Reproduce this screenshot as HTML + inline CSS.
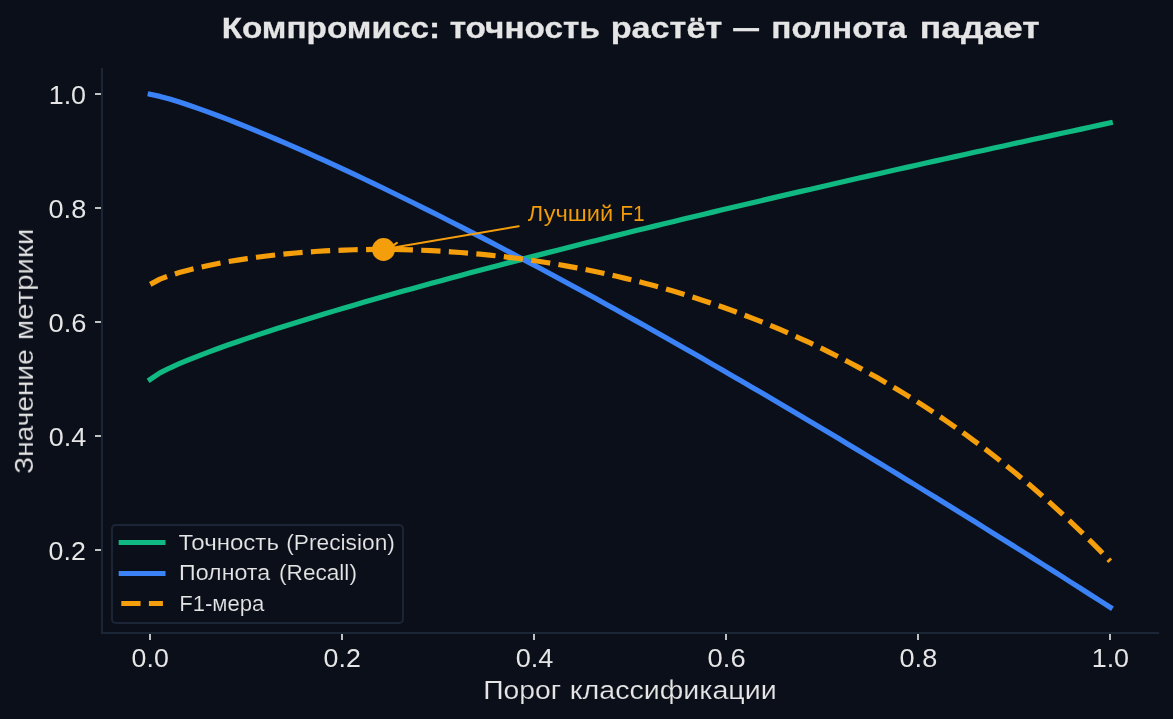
<!DOCTYPE html>
<html lang="ru"><head><meta charset="utf-8"><title>Компромисс: точность растёт — полнота падает</title>
<style>html,body{margin:0;padding:0;background:#0b0f19;overflow:hidden}svg{display:block}text{font-family:"Liberation Sans",sans-serif;white-space:pre}</style></head><body>
<svg width="1173" height="719" viewBox="0 0 1173 719" role="img" aria-label="Компромисс: точность растёт — полнота падает">
<rect width="1173" height="719" fill="#0b0f19"/>
<g fill="#c1c1c1" shape-rendering="crispEdges">
<rect x="149" y="633" width="2" height="7"/>
<rect x="341" y="633" width="2" height="7"/>
<rect x="533" y="633" width="2" height="7"/>
<rect x="725" y="633" width="2" height="7"/>
<rect x="917" y="633" width="2" height="7"/>
<rect x="1109" y="633" width="2" height="7"/>
<rect x="95" y="549" width="7" height="2"/>
<rect x="95" y="435" width="7" height="2"/>
<rect x="95" y="321" width="7" height="2"/>
<rect x="95" y="207" width="7" height="2"/>
<rect x="95" y="93" width="7" height="2"/>
</g>
<g fill="#1b2535" shape-rendering="crispEdges"><rect x="101" y="67.5" width="2" height="566.5"/><rect x="101" y="632" width="1057.8" height="2"/></g>
<g fill="none" stroke-width="5.208" stroke-linejoin="round">
<polyline stroke="#10b981" stroke-linecap="square" points="150.25,379.35 159.95,372.85 169.64,368.04 179.34,363.71 189.04,359.66 198.73,355.81 208.43,352.12 218.13,348.54 227.83,345.07 237.52,341.68 247.22,338.37 256.92,335.12 266.61,331.93 276.31,328.80 286.01,325.71 295.70,322.67 305.40,319.66 315.10,316.70 324.80,313.77 334.49,310.87 344.19,308.00 353.89,305.16 363.58,302.35 373.28,299.56 382.98,296.79 392.67,294.05 402.37,291.33 412.07,288.64 421.77,285.96 431.46,283.30 441.16,280.66 450.86,278.04 460.55,275.43 470.25,272.84 479.95,270.27 489.64,267.71 499.34,265.16 509.04,262.63 518.73,260.11 528.43,257.61 538.13,255.12 547.83,252.64 557.52,250.17 567.22,247.72 576.92,245.28 586.61,242.84 596.31,240.42 606.01,238.01 615.70,235.61 625.40,233.22 635.10,230.84 644.80,228.47 654.49,226.11 664.19,223.75 673.89,221.41 683.58,219.07 693.28,216.75 702.98,214.43 712.67,212.12 722.37,209.81 732.07,207.52 741.77,205.23 751.46,202.95 761.16,200.68 770.86,198.41 780.55,196.16 790.25,193.91 799.95,191.66 809.64,189.42 819.34,187.19 829.04,184.97 838.73,182.75 848.43,180.54 858.13,178.33 867.83,176.13 877.52,173.94 887.22,171.75 896.92,169.57 906.61,167.39 916.31,165.22 926.01,163.05 935.70,160.89 945.40,158.74 955.10,156.59 964.80,154.44 974.49,152.30 984.19,150.17 993.89,148.04 1003.58,145.92 1013.28,143.80 1022.98,141.68 1032.67,139.57 1042.37,137.46 1052.07,135.36 1061.77,133.27 1071.46,131.17 1081.16,129.09 1090.86,127.00 1100.55,124.92 1110.25,122.85"/>
<polyline stroke="#3b82f6" stroke-linecap="square" points="150.25,94.35 159.95,96.42 169.64,99.10 179.34,102.08 189.04,105.26 198.73,108.61 208.43,112.10 218.13,115.70 227.83,119.41 237.52,123.22 247.22,127.11 256.92,131.08 266.61,135.12 276.31,139.23 286.01,143.41 295.70,147.64 305.40,151.93 315.10,156.28 324.80,160.68 334.49,165.12 344.19,169.61 353.89,174.15 363.58,178.73 373.28,183.36 382.98,188.02 392.67,192.72 402.37,197.47 412.07,202.24 421.77,207.06 431.46,211.90 441.16,216.78 450.86,221.70 460.55,226.64 470.25,231.62 479.95,236.63 489.64,241.66 499.34,246.73 509.04,251.82 518.73,256.94 528.43,262.09 538.13,267.26 547.83,272.46 557.52,277.69 567.22,282.94 576.92,288.21 586.61,293.51 596.31,298.84 606.01,304.18 615.70,309.55 625.40,314.94 635.10,320.36 644.80,325.79 654.49,331.25 664.19,336.72 673.89,342.22 683.58,347.74 693.28,353.28 702.98,358.84 712.67,364.42 722.37,370.01 732.07,375.63 741.77,381.26 751.46,386.92 761.16,392.59 770.86,398.28 780.55,403.99 790.25,409.71 799.95,415.45 809.64,421.21 819.34,426.99 829.04,432.78 838.73,438.59 848.43,444.42 858.13,450.26 867.83,456.12 877.52,461.99 887.22,467.89 896.92,473.79 906.61,479.71 916.31,485.65 926.01,491.60 935.70,497.57 945.40,503.55 955.10,509.54 964.80,515.55 974.49,521.58 984.19,527.61 993.89,533.67 1003.58,539.73 1013.28,545.81 1022.98,551.91 1032.67,558.02 1042.37,564.14 1052.07,570.27 1061.77,576.42 1071.46,582.58 1081.16,588.75 1090.86,594.94 1100.55,601.14 1110.25,607.35"/>
<polyline stroke="#f59e0b" stroke-linecap="butt" stroke-dasharray="19.27 8.333" stroke-dashoffset="0.7" points="150.25,284.35 159.95,279.09 169.64,275.55 179.34,272.56 189.04,269.92 198.73,267.56 208.43,265.43 218.13,263.48 227.83,261.70 237.52,260.08 247.22,258.59 256.92,257.24 266.61,256.01 276.31,254.89 286.01,253.89 295.70,253.00 305.40,252.21 315.10,251.52 324.80,250.94 334.49,250.45 344.19,250.06 353.89,249.76 363.58,249.55 373.28,249.44 382.98,249.42 392.67,249.49 402.37,249.65 412.07,249.89 421.77,250.23 431.46,250.66 441.16,251.18 450.86,251.78 460.55,252.48 470.25,253.26 479.95,254.13 489.64,255.10 499.34,256.15 509.04,257.30 518.73,258.53 528.43,259.86 538.13,261.28 547.83,262.80 557.52,264.40 567.22,266.11 576.92,267.90 586.61,269.80 596.31,271.79 606.01,273.88 615.70,276.07 625.40,278.36 635.10,280.75 644.80,283.24 654.49,285.84 664.19,288.55 673.89,291.35 683.58,294.27 693.28,297.30 702.98,300.44 712.67,303.68 722.37,307.05 732.07,310.53 741.77,314.12 751.46,317.84 761.16,321.67 770.86,325.63 780.55,329.71 790.25,333.92 799.95,338.26 809.64,342.73 819.34,347.33 829.04,352.07 838.73,356.94 848.43,361.95 858.13,367.11 867.83,372.41 877.52,377.85 887.22,383.45 896.92,389.20 906.61,395.11 916.31,401.17 926.01,407.40 935.70,413.79 945.40,420.35 955.10,427.07 964.80,433.98 974.49,441.06 984.19,448.33 993.89,455.78 1003.58,463.42 1013.28,471.25 1022.98,479.28 1032.67,487.51 1042.37,495.95 1052.07,504.60 1061.77,513.47 1071.46,522.55 1081.16,531.87 1090.86,541.41 1100.55,551.19 1110.25,561.21"/>
</g>
<g fill="none" stroke="#f59e0b" stroke-width="2.083" stroke-linecap="round" stroke-linejoin="round" transform="translate(0.25 0.35)">
<path d="M518.45 225.85 L389.13 247.97"/><path d="M398.04 250.67 L389.13 247.97 L396.64 242.46"/></g>
<circle cx="383.5" cy="249.5" r="11.46" fill="#f59e0b"/>
<path d="M116.17 525 H398.83 Q403 525 403 529.17 V618.83 Q403 623 398.83 623 H116.17 Q112 623 112 618.83 V529.17 Q112 525 116.17 525 Z" fill="#0b0f19" fill-opacity="0.8" stroke="#1b2535" stroke-width="2"/>
<g fill="none" stroke-width="5.208">
<path stroke="#10b981" stroke-linecap="square" d="M121.3 542.5 H162.9"/>
<path stroke="#3b82f6" stroke-linecap="square" d="M121.3 573.5 H162.9"/>
<path stroke="#f59e0b" stroke-dasharray="19.27 8.333" d="M121.3 603.5 H162.9"/>
</g>
<g opacity="0.999">
<text transform="translate(221.52 38.00)" font-size="30.00" font-weight="700" fill="#e6e6e6" stroke="#e6e6e6" stroke-width="0.270"><tspan x="0.17" textLength="218.31" lengthAdjust="spacingAndGlyphs">Компромисс:</tspan> <tspan x="228.19" textLength="150.18" lengthAdjust="spacingAndGlyphs">точность</tspan> <tspan x="389.16" textLength="111.48" lengthAdjust="spacingAndGlyphs">растёт</tspan> <tspan x="511.68" textLength="25.73" lengthAdjust="spacingAndGlyphs">—</tspan> <tspan x="549.74" textLength="135.39" lengthAdjust="spacingAndGlyphs">полнота</tspan> <tspan x="698.22" textLength="119.99" lengthAdjust="spacingAndGlyphs">падает</tspan></text>
<text transform="translate(483.26 699.00)" font-size="26.00" fill="#e6e6e6" stroke="#0b0f19" stroke-width="0.170"><tspan x="-0.11" textLength="77.87" lengthAdjust="spacingAndGlyphs">Порог</tspan> <tspan x="86.42" textLength="207.07" lengthAdjust="spacingAndGlyphs">классификации</tspan></text>
<text transform="translate(32.90 473.84) rotate(-90)" font-size="26.00" fill="#e6e6e6" stroke="#0b0f19" stroke-width="0.170"><tspan x="-0.03" textLength="124.73" lengthAdjust="spacingAndGlyphs">Значение</tspan> <tspan x="133.67" textLength="111.56" lengthAdjust="spacingAndGlyphs">метрики</tspan></text>
<text transform="translate(527.92 221.00)" font-size="22.00" fill="#f59e0b" stroke="#0b0f19" stroke-width="0.080"><tspan x="-0.12" textLength="85.50" lengthAdjust="spacingAndGlyphs">Лучший</tspan> <tspan x="92.34" textLength="24.52" lengthAdjust="spacingAndGlyphs">F1</tspan></text>
<text transform="translate(178.66 550.00)" font-size="22.00" fill="#e6e6e6" stroke="#0b0f19" stroke-width="0.150"><tspan x="-0.18" textLength="100.42" lengthAdjust="spacingAndGlyphs">Точность</tspan> <tspan x="107.57" textLength="108.68" lengthAdjust="spacingAndGlyphs">(Precision)</tspan></text>
<text transform="translate(179.49 580.00)" font-size="22.00" fill="#e6e6e6" stroke="#0b0f19" stroke-width="0.150"><tspan x="-0.44" textLength="91.10" lengthAdjust="spacingAndGlyphs">Полнота</tspan> <tspan x="99.62" textLength="77.82" lengthAdjust="spacingAndGlyphs">(Recall)</tspan></text>
<text transform="translate(179.13 611.00)" font-size="22.00" fill="#e6e6e6" stroke="#0b0f19" stroke-width="0.150"><tspan x="0.12" textLength="85.17" lengthAdjust="spacingAndGlyphs">F1-мера</tspan></text>
<text transform="translate(131.87 667.00)" font-size="26.40" fill="#e6e6e6"><tspan x="-0.26" textLength="37.13" lengthAdjust="spacingAndGlyphs">0.0</tspan></text>
<text transform="translate(323.89 667.00)" font-size="26.40" fill="#e6e6e6"><tspan x="-0.28" textLength="37.18" lengthAdjust="spacingAndGlyphs">0.2</tspan></text>
<text transform="translate(515.85 667.00)" font-size="26.40" fill="#e6e6e6"><tspan x="-0.21" textLength="37.64" lengthAdjust="spacingAndGlyphs">0.4</tspan></text>
<text transform="translate(707.84 667.00)" font-size="26.40" fill="#e6e6e6"><tspan x="-0.24" textLength="37.97" lengthAdjust="spacingAndGlyphs">0.6</tspan></text>
<text transform="translate(899.87 667.00)" font-size="26.40" fill="#e6e6e6"><tspan x="-0.32" textLength="37.64" lengthAdjust="spacingAndGlyphs">0.8</tspan></text>
<text transform="translate(1092.00 667.00)" font-size="26.40" fill="#e6e6e6"><tspan x="-0.31" textLength="37.37" lengthAdjust="spacingAndGlyphs">1.0</tspan></text>
<text transform="translate(48.89 560.00)" font-size="26.40" fill="#e6e6e6"><tspan x="-0.28" textLength="37.18" lengthAdjust="spacingAndGlyphs">0.2</tspan></text>
<text transform="translate(48.87 446.00)" font-size="26.40" fill="#e6e6e6"><tspan x="-0.21" textLength="37.44" lengthAdjust="spacingAndGlyphs">0.4</tspan></text>
<text transform="translate(48.85 332.00)" font-size="26.40" fill="#e6e6e6"><tspan x="-0.29" textLength="37.96" lengthAdjust="spacingAndGlyphs">0.6</tspan></text>
<text transform="translate(48.87 218.00)" font-size="26.40" fill="#e6e6e6"><tspan x="-0.32" textLength="37.64" lengthAdjust="spacingAndGlyphs">0.8</tspan></text>
<text transform="translate(49.00 104.00)" font-size="26.40" fill="#e6e6e6"><tspan x="-0.31" textLength="37.37" lengthAdjust="spacingAndGlyphs">1.0</tspan></text>
</g>
</svg></body></html>
